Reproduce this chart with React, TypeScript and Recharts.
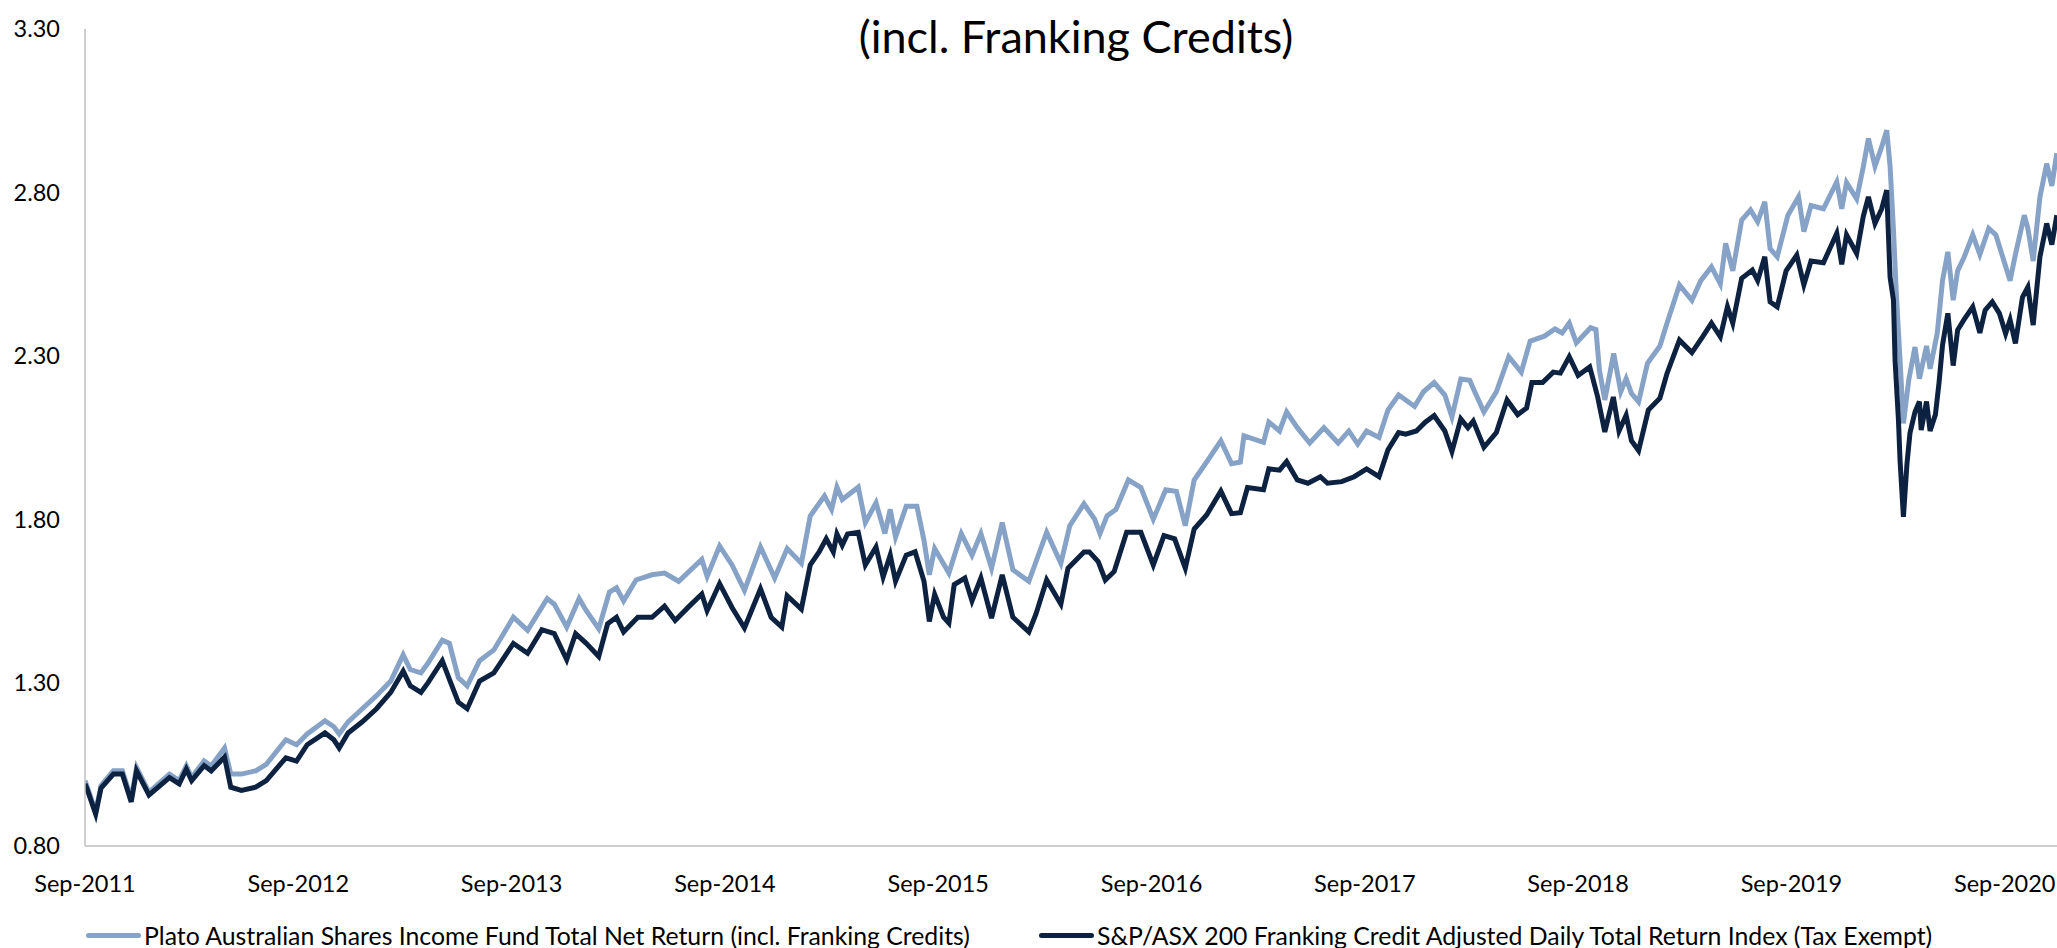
import React from "react";
import { LineChart, Line, XAxis, YAxis, Legend } from "recharts";

// Months elapsed since Sep-2011 (x positions) and index values
const platoMonths = [0.0, 0.1, 0.6, 0.9, 1.6, 2.1, 2.6, 2.9, 3.6, 4.75, 5.3, 5.7, 6.0, 6.7, 7.1, 7.85, 8.2, 8.8, 9.6, 10.2, 11.3, 11.9, 12.5, 13.5, 14.0, 14.3, 14.8, 15.6, 16.4, 17.2, 17.9, 18.3, 18.9, 19.3, 20.1, 20.5, 21.0, 21.5, 22.2, 23.0, 24.1, 24.9, 26.0, 26.4, 27.1, 27.8, 28.2, 28.9, 29.5, 29.9, 30.3, 31.0, 31.9, 32.6, 33.4, 34.7, 35.0, 35.7, 36.4, 37.1, 38.0, 38.8, 39.5, 40.3, 40.8, 41.6, 42.0, 42.3, 42.6, 43.5, 43.9, 44.5, 45.0, 45.3, 45.6, 46.2, 46.8, 47.2, 47.5, 47.8, 48.6, 49.3, 49.9, 50.4, 51.0, 51.6, 52.2, 53.1, 54.1, 54.9, 55.4, 56.2, 56.8, 57.1, 57.5, 58.0, 58.7, 59.4, 60.1, 60.8, 61.4, 61.9, 62.4, 63.1, 63.9, 64.5, 65.0, 65.2, 66.3, 66.6, 67.2, 67.6, 68.2, 68.9, 69.7, 70.5, 71.1, 71.6, 72.1, 72.8, 73.3, 73.9, 74.3, 74.8, 75.3, 75.9, 76.5, 76.9, 77.4, 77.9, 78.1, 78.7, 79.4, 80.1, 80.8, 81.3, 82.1, 82.7, 83.1, 83.5, 83.9, 84.7, 85.0, 85.2, 85.5, 86.0, 86.4, 86.7, 87.0, 87.4, 87.9, 88.6, 89.0, 89.7, 90.4, 90.9, 91.5, 92.0, 92.3, 92.7, 93.2, 93.7, 94.1, 94.5, 94.8, 95.2, 95.8, 96.4, 96.7, 97.1, 97.8, 98.55, 98.83, 99.1, 99.67, 100.04, 100.33, 100.7, 101.08, 101.36, 101.55, 101.74, 101.9, 102.11, 102.3, 102.6, 102.95, 103.2, 103.6, 103.8, 104.2, 104.5, 104.8, 105.1, 105.35, 105.7, 106.2, 106.6, 107.1, 107.5, 107.9, 108.3, 108.6, 109.1, 109.3, 109.6, 109.98, 110.36, 110.65, 110.93];
const platoValues = [1.0, 0.985, 0.905, 0.985, 1.03, 1.03, 0.945, 1.04, 0.965, 1.02, 1.0, 1.045, 1.01, 1.06, 1.045, 1.1, 1.02, 1.02, 1.03, 1.05, 1.125, 1.11, 1.143, 1.183, 1.165, 1.143, 1.18, 1.22, 1.26, 1.305, 1.385, 1.34, 1.33, 1.36, 1.43, 1.42, 1.315, 1.29, 1.367, 1.4, 1.5, 1.46, 1.557, 1.54, 1.47, 1.557, 1.52, 1.465, 1.577, 1.59, 1.55, 1.614, 1.63, 1.635, 1.61, 1.677, 1.625, 1.718, 1.66, 1.582, 1.715, 1.62, 1.71, 1.665, 1.81, 1.871, 1.83, 1.898, 1.86, 1.898, 1.79, 1.85, 1.756, 1.83, 1.745, 1.84, 1.84, 1.735, 1.63, 1.71, 1.635, 1.756, 1.69, 1.756, 1.65, 1.79, 1.645, 1.61, 1.76, 1.665, 1.78, 1.847, 1.8, 1.756, 1.81, 1.83, 1.92, 1.897, 1.8, 1.89, 1.885, 1.78, 1.92, 1.975, 2.04, 1.97, 1.975, 2.055, 2.035, 2.097, 2.07, 2.128, 2.08, 2.033, 2.08, 2.033, 2.07, 2.03, 2.07, 2.05, 2.134, 2.18, 2.165, 2.145, 2.19, 2.218, 2.18, 2.113, 2.229, 2.225, 2.2, 2.128, 2.19, 2.297, 2.25, 2.345, 2.36, 2.382, 2.37, 2.4, 2.34, 2.386, 2.38, 2.255, 2.165, 2.307, 2.19, 2.23, 2.185, 2.159, 2.277, 2.33, 2.4, 2.517, 2.47, 2.53, 2.572, 2.52, 2.644, 2.56, 2.715, 2.746, 2.71, 2.771, 2.628, 2.603, 2.73, 2.786, 2.68, 2.76, 2.75, 2.832, 2.75, 2.83, 2.78, 2.878, 2.965, 2.88, 2.94, 2.99, 2.88, 2.685, 2.49, 2.287, 2.093, 2.226, 2.327, 2.23, 2.33, 2.26, 2.368, 2.53, 2.618, 2.47, 2.56, 2.6, 2.67, 2.61, 2.69, 2.67, 2.6, 2.53, 2.61, 2.73, 2.69, 2.59, 2.786, 2.888, 2.82, 2.92];

const asxMonths = [0.0, 0.1, 0.6, 0.9, 1.6, 2.1, 2.6, 2.9, 3.6, 4.75, 5.3, 5.7, 6.0, 6.7, 7.1, 7.85, 8.2, 8.8, 9.6, 10.2, 11.3, 11.9, 12.5, 13.5, 14.0, 14.3, 14.8, 15.6, 16.4, 17.2, 17.9, 18.3, 18.9, 19.3, 20.1, 20.5, 21.0, 21.5, 22.2, 23.0, 24.1, 24.9, 25.7, 26.4, 27.1, 27.6, 28.2, 28.9, 29.4, 29.9, 30.3, 31.1, 31.9, 32.6, 33.2, 34.0, 34.7, 35.0, 35.7, 36.4, 37.1, 38.0, 38.6, 39.2, 39.5, 40.3, 40.8, 41.3, 41.7, 42.1, 42.3, 42.6, 42.9, 43.5, 43.9, 44.5, 44.9, 45.3, 45.6, 46.2, 46.7, 47.2, 47.5, 47.8, 48.3, 48.6, 48.9, 49.5, 49.9, 50.4, 51.0, 51.6, 52.2, 53.1, 53.5, 54.1, 54.9, 55.3, 56.2, 56.5, 57.0, 57.4, 57.9, 58.6, 59.4, 60.1, 60.7, 61.3, 61.9, 62.4, 63.1, 63.9, 64.5, 65.0, 65.4, 66.3, 66.6, 67.2, 67.6, 68.2, 68.8, 69.5, 69.9, 70.7, 71.4, 72.1, 72.8, 73.3, 73.9, 74.3, 74.9, 75.4, 75.9, 76.5, 76.9, 77.4, 77.8, 78.1, 78.7, 79.4, 80.0, 80.6, 81.1, 81.4, 82.0, 82.6, 83.0, 83.5, 84.0, 84.65, 84.8, 85.1, 85.5, 85.98, 86.3, 86.7, 87.0, 87.4, 87.95, 88.6, 89.0, 89.7, 90.4, 91.0, 91.5, 92.0, 92.4, 92.7, 93.2, 93.8, 94.1, 94.5, 94.8, 95.2, 95.7, 96.3, 96.7, 97.1, 97.8, 98.55, 98.83, 99.1, 99.67, 100.04, 100.33, 100.7, 101.08, 101.36, 101.55, 101.74, 101.83, 102.02, 102.11, 102.3, 102.5, 102.67, 102.95, 103.2, 103.3, 103.6, 103.8, 104.1, 104.3, 104.5, 104.8, 105.1, 105.35, 105.7, 106.2, 106.6, 106.9, 107.3, 107.7, 108.05, 108.3, 108.6, 109.0, 109.3, 109.6, 109.98, 110.36, 110.65, 110.93];
const asxValues = [0.99, 0.977, 0.898, 0.977, 1.02, 1.02, 0.935, 1.03, 0.956, 1.009, 0.99, 1.035, 1.0, 1.046, 1.03, 1.072, 0.98, 0.97, 0.98, 1.0, 1.07, 1.06, 1.11, 1.146, 1.125, 1.1, 1.146, 1.18, 1.22, 1.27, 1.335, 1.29, 1.27, 1.3, 1.367, 1.31, 1.24, 1.22, 1.305, 1.33, 1.42, 1.39, 1.462, 1.45, 1.37, 1.45, 1.42, 1.38, 1.48, 1.5, 1.455, 1.5, 1.5, 1.534, 1.49, 1.534, 1.571, 1.52, 1.603, 1.53, 1.467, 1.587, 1.5, 1.47, 1.566, 1.525, 1.66, 1.7, 1.74, 1.7, 1.755, 1.72, 1.755, 1.76, 1.66, 1.715, 1.623, 1.69, 1.61, 1.69, 1.7, 1.61, 1.487, 1.57, 1.5, 1.482, 1.6, 1.62, 1.55, 1.62, 1.497, 1.63, 1.5, 1.455, 1.51, 1.614, 1.54, 1.65, 1.7, 1.7, 1.67, 1.614, 1.64, 1.76, 1.76, 1.66, 1.75, 1.74, 1.65, 1.77, 1.813, 1.886, 1.817, 1.82, 1.897, 1.89, 1.954, 1.95, 1.976, 1.92, 1.91, 1.93, 1.91, 1.915, 1.93, 1.954, 1.93, 2.012, 2.065, 2.06, 2.07, 2.097, 2.117, 2.07, 2.007, 2.107, 2.08, 2.1, 2.02, 2.065, 2.165, 2.12, 2.14, 2.218, 2.218, 2.25, 2.247, 2.297, 2.24, 2.266, 2.236, 2.174, 2.067, 2.174, 2.07, 2.118, 2.04, 2.01, 2.134, 2.17, 2.246, 2.348, 2.31, 2.358, 2.4, 2.358, 2.45, 2.4, 2.537, 2.562, 2.53, 2.603, 2.465, 2.45, 2.56, 2.608, 2.517, 2.59, 2.585, 2.675, 2.58, 2.67, 2.613, 2.726, 2.786, 2.705, 2.75, 2.807, 2.54, 2.47, 2.287, 2.104, 1.98, 1.807, 1.97, 2.064, 2.128, 2.16, 2.073, 2.16, 2.07, 2.12, 2.216, 2.333, 2.43, 2.27, 2.379, 2.41, 2.45, 2.37, 2.44, 2.465, 2.43, 2.368, 2.41, 2.338, 2.48, 2.51, 2.394, 2.603, 2.705, 2.64, 2.73];

const tickMonths = [0, 12, 24, 36, 48, 60, 72, 84, 96, 108];
const tickLabels = ["Sep-2011", "Sep-2012", "Sep-2013", "Sep-2014", "Sep-2015", "Sep-2016", "Sep-2017", "Sep-2018", "Sep-2019", "Sep-2020"];
const yTicks = [0.8, 1.3, 1.8, 2.3, 2.8, 3.3];

const seriesNames = [
  "Plato Australian Shares Income Fund Total Net Return (incl. Franking Credits)",
  "S&P/ASX 200 Franking Credit Adjusted Daily Total Return Index (Tax Exempt)",
];
const titleText = "(incl. Franking Credits)";

const platoData = platoMonths.map((m, i) => ({ m, v: platoValues[i] }));
const asxData = asxMonths.map((m, i) => ({ m, v: asxValues[i] }));

const FONT = "Lato, 'Open Sans', sans-serif";
const LIGHT = "#86A3C7";
const DARK = "#0D2240";
const AXIS = "#BFBFBF";

const renderLegend = (props: any) => {
  const items = props.payload || [];
  const lefts = [86, 1039];
  return (
    <div style={{ position: "relative", height: 40, width: 2057, fontFamily: FONT, fontSize: 24.8, color: "#000" }}>
      {items.map((it: any, i: number) => (
        <div key={i} style={{ position: "absolute", left: lefts[i], top: 0, height: 40, display: "flex", alignItems: "center", whiteSpace: "nowrap" }}>
          <span style={{ display: "inline-block", width: 55, height: 5, borderRadius: 3, background: it.color, marginRight: 3 }} />
          <span>{it.value}</span>
        </div>
      ))}
    </div>
  );
};

export default function App() {
  return (
    <div style={{ position: "absolute", left: 0, top: 0, width: 2057, height: 948, overflow: "hidden", background: "#fff" }}>
      <div style={{ position: "absolute", left: 1076, top: 36, transform: "translate(-50%, -50%)", fontFamily: FONT, fontSize: 45, color: "#000", whiteSpace: "nowrap", zIndex: 2 }}>
        {titleText}
      </div>
      <LineChart width={2057} height={948} margin={{ top: 29, right: 0, bottom: 72, left: 0 }}>
        <XAxis
          dataKey="m"
          type="number"
          domain={[0, 110.94]}
          ticks={tickMonths}
          interval={0}
          height={30}
          tickFormatter={(v: number) => tickLabels[tickMonths.indexOf(v)] ?? ""}
          axisLine={{ stroke: AXIS, strokeWidth: 1.5 }}
          tickLine={false}
          tickSize={0}
          tickMargin={29}
          tick={{ fill: "#000", fontSize: 23.5, fontFamily: FONT }}
          allowDataOverflow
        />
        <YAxis
          type="number"
          domain={[0.8, 3.3]}
          ticks={yTicks}
          interval={0}
          width={85}
          tickFormatter={(v: number) => v.toFixed(2)}
          axisLine={{ stroke: AXIS, strokeWidth: 1.5 }}
          tickLine={false}
          tickSize={0}
          tickMargin={25}
          tick={{ fill: "#000", fontSize: 23.5, fontFamily: FONT }}
          allowDataOverflow
        />
        <Legend
          layout="horizontal"
          verticalAlign="middle"
          align="center"
          wrapperStyle={{ top: 915, left: 0, width: 2057 }}
          content={renderLegend}
        />
        <Line data={platoData} dataKey="v" name={seriesNames[0]} stroke={LIGHT} strokeWidth={5} dot={false} isAnimationActive={false} />
        <Line data={asxData} dataKey="v" name={seriesNames[1]} stroke={DARK} strokeWidth={5} dot={false} isAnimationActive={false} />
      </LineChart>
    </div>
  );
}
